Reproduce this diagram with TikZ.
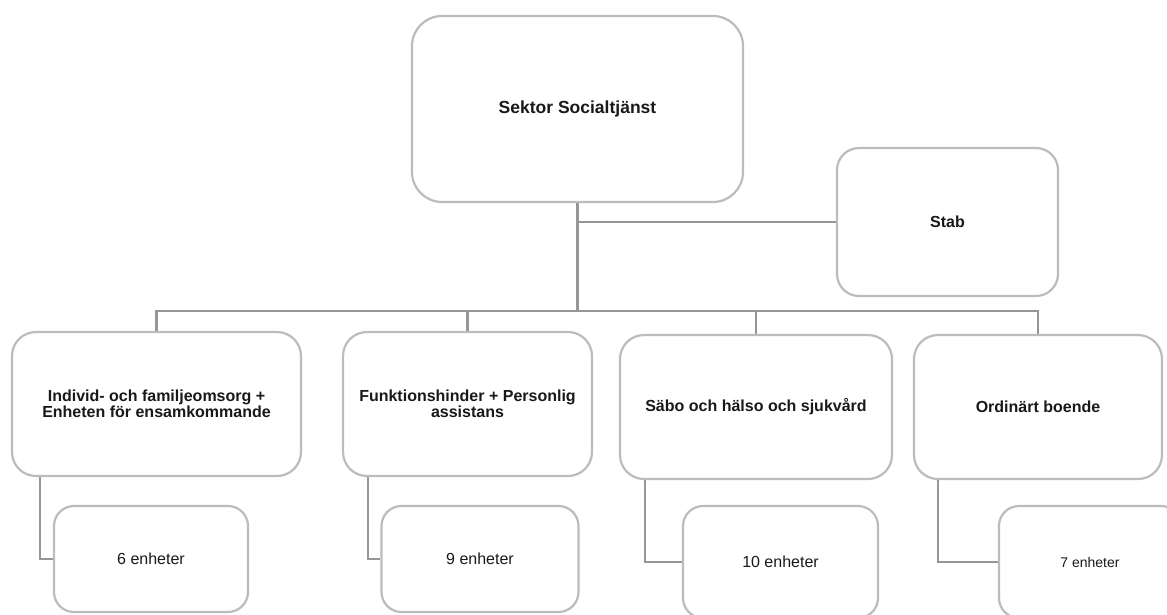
\documentclass[tikz,border=0pt]{standalone}
\usepackage{fontspec}
\setmainfont{Liberation Sans}
\definecolor{boxgray}{RGB}{188,188,188}
\definecolor{conngray}{RGB}{150,150,150}
\definecolor{txt}{RGB}{25,25,25}
\begin{document}
\begin{tikzpicture}[x=1pt,y=-1pt,
  box/.style={draw=boxgray, line width=2.2pt, rounded corners=#1, align=center, inner sep=0pt, text=txt, fill=white},
  box/.default=24pt,
  head/.style={font=\fontsize{16}{16}\selectfont\bfseries},
  unit/.style={font=\fontsize{16}{16}\selectfont},
  conn/.style={draw=conngray, line width=2.2pt}]
\useasboundingbox[fill=white] (0,0) rectangle (1167,614);
\coordinate (bus) at (577.5,311);
% boxes
\node[box=30pt, font=\fontsize{17.5}{17.5}\selectfont\bfseries, minimum width=331pt, minimum height=186pt] (top) at (577.5,109) {Sektor Socialtjänst};
\node[box=22pt, head, minimum width=221pt, minimum height=148pt] (stab) at (947.5,222) {Stab};
\node[box, head, minimum width=289pt, minimum height=144pt] (b1) at (156.5,404) {Individ- och familjeomsorg +\\Enheten för ensamkommande};
\node[box, head, minimum width=249pt, minimum height=144pt] (b2) at (467.5,404) {Funktionshinder + Personlig\\assistans};
\node[box, head, minimum width=272pt, minimum height=144pt] (b3) at (756,407) {Säbo och hälso och sjukvård};
\node[box, head, minimum width=248pt, minimum height=144pt] (b4) at (1038,407) {Ordinärt boende};
\node[box=20pt, unit, minimum width=194pt, minimum height=106pt] (s1) at (151,559) {6 enheter};
\node[box=20pt, unit, minimum width=197pt, minimum height=106pt] (s2) at (480,559) {9 enheter};
\node[box=20pt, unit, minimum width=195pt, minimum height=112pt] (s3) at (780.5,562) {10 enheter};
\node[box=20pt, font=\fontsize{14}{14}\selectfont, minimum width=182pt, minimum height=112pt] (s4) at (1090,562) {7 enheter};
% connectors
\draw[conn] (top.south) -- (bus);
\draw[conn] (top.south |- stab.west) -- (stab.west);
\draw[conn] (b1.north) |- (bus) -| (b4.north);
\draw[conn] (b2.north) -- (b2.north |- bus);
\draw[conn] (b3.north) -- (b3.north |- bus);
\draw[conn] ([xshift=29pt]b1.south west) |- (s1.west);
\draw[conn] ([xshift=26pt]b2.south west) |- (s2.west);
\draw[conn] ([xshift=26pt]b3.south west) |- (s3.west);
\draw[conn] ([xshift=25pt]b4.south west) |- (s4.west);
\end{tikzpicture}
\end{document}
